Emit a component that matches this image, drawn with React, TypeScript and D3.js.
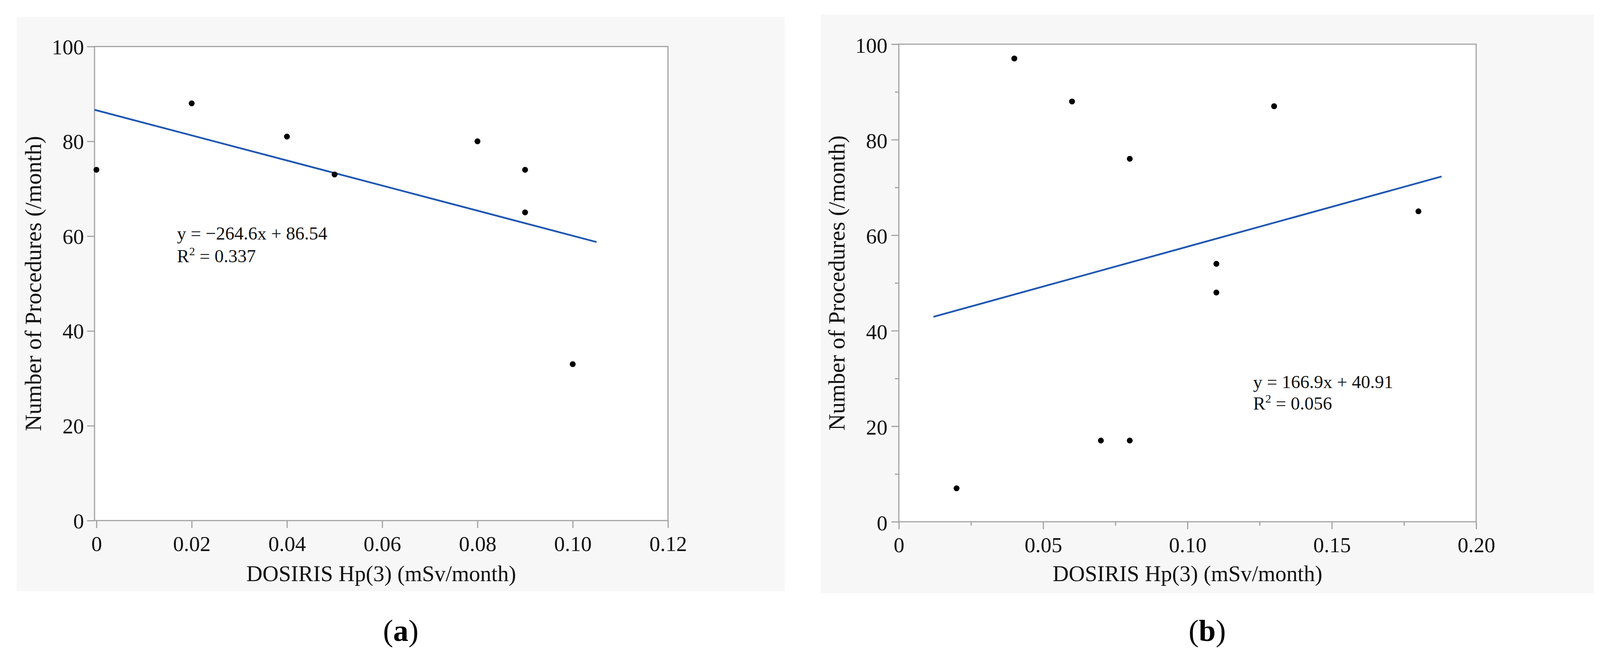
import * as d3 from 'd3';
import { useEffect, useRef } from 'react';

// panel (a) data
const xValuesA = [0, 0.02, 0.04, 0.05, 0.08, 0.09, 0.09, 0.1];
const yValuesA = [74, 88, 81, 73, 80, 74, 65, 33];
const fitA = { slope: -264.6, intercept: 86.54, from: -0.0004, to: 0.105 };
const xTicksA = [0, 0.02, 0.04, 0.06, 0.08, 0.1, 0.12];
const xTickLabelsA = ['0', '0.02', '0.04', '0.06', '0.08', '0.10', '0.12'];
const eqLinesA = ['y = \u2212264.6x + 86.54', '0.337'];

// panel (b) data
const xValuesB = [0.02, 0.04, 0.06, 0.07, 0.08, 0.08, 0.11, 0.11, 0.13, 0.18];
const yValuesB = [7, 97, 88, 17, 17, 76, 54, 48, 87, 65];
const fitB = { slope: 166.9, intercept: 40.91, from: 0.012, to: 0.188 };
const xTicksB = [0, 0.05, 0.1, 0.15, 0.2];
const xTickLabelsB = ['0', '0.05', '0.10', '0.15', '0.20'];
const xMinorB = [0.025, 0.075, 0.125, 0.175];
const yMinorB = [10, 30, 50, 70, 90];
const eqLinesB = ['y = 166.9x + 40.91', '0.056'];

const yTicks = [0, 20, 40, 60, 80, 100];

const font = '"Liberation Serif", "Times New Roman", serif';
const axisGray = '#a4a4a4';
const lineBlue = '#1f57b2';

interface PanelProps {
  xs: number[];
  ys: number[];
  fit: { slope: number; intercept: number; from: number; to: number };
  xDomain: [number, number];
  xTicks: number[];
  xTickLabels: string[];
  xMinor: number[];
  yMinor: number[];
  eq: string[];
  bg: { x0: number; y0: number; x1: number; y1: number };
  plot: { left: number; right: number; top: number; bottom: number };
  eqPos: { x: number; y: number; gap: number };
  yTitleX: number;
  yLabelDx: number;
  yLabelDy: number;
  caption: string;
}

const Panel = (p: PanelProps) => {
  const gRef = useRef<SVGGElement>(null);

  useEffect(() => {
    const g = d3.select(gRef.current);
    g.selectAll('*').remove();
    const { plot, bg } = p;

    const x = d3.scaleLinear().domain(p.xDomain).range([plot.left, plot.right]);
    const y = d3.scaleLinear().domain([0, 100]).range([plot.bottom, plot.top]);

    g.append('rect')
      .attr('x', bg.x0)
      .attr('y', bg.y0)
      .attr('width', bg.x1 - bg.x0)
      .attr('height', bg.y1 - bg.y0)
      .attr('fill', '#f7f7f7');

    g.append('rect')
      .attr('x', plot.left)
      .attr('y', plot.top)
      .attr('width', plot.right - plot.left)
      .attr('height', plot.bottom - plot.top)
      .attr('fill', '#fff')
      .attr('stroke', axisGray)
      .attr('stroke-width', 3);

    // minor ticks
    if (p.xMinor.length) {
      g.append('g')
        .attr('transform', `translate(0,${plot.bottom})`)
        .call(d3.axisBottom(x).tickValues(p.xMinor).tickSize(10).tickSizeOuter(0).tickFormat(() => ''))
        .call((s) => s.select('.domain').remove());
    }
    if (p.yMinor.length) {
      g.append('g')
        .attr('transform', `translate(${plot.left},0)`)
        .call(d3.axisLeft(y).tickValues(p.yMinor).tickSize(10).tickSizeOuter(0).tickFormat(() => ''))
        .call((s) => s.select('.domain').remove());
    }

    const xAxis = g
      .append('g')
      .attr('transform', `translate(0,${plot.bottom})`)
      .call(
        d3
          .axisBottom(x)
          .tickValues(p.xTicks)
          .tickSize(19)
          .tickSizeOuter(0)
          .tickFormat((_, i) => p.xTickLabels[i])
      );
    xAxis.select('.domain').remove();
    xAxis.selectAll('text').attr('dy', null).attr('y', 78);

    const yAxis = g
      .append('g')
      .attr('transform', `translate(${plot.left},0)`)
      .call(d3.axisLeft(y).tickValues(yTicks).tickSize(19).tickSizeOuter(0).tickFormat(d3.format('d')));
    yAxis.select('.domain').remove();
    yAxis.selectAll('text').attr('dy', null).attr('x', p.yLabelDx).attr('y', p.yLabelDy);

    g.selectAll('.tick line').attr('stroke', axisGray).attr('stroke-width', 3);
    g.selectAll('.tick text')
      .attr('fill', '#111')
      .attr('font-family', font)
      .attr('font-size', 55);

    // regression line
    g.append('line')
      .attr('x1', x(p.fit.from))
      .attr('y1', y(p.fit.slope * p.fit.from + p.fit.intercept))
      .attr('x2', x(p.fit.to))
      .attr('y2', y(p.fit.slope * p.fit.to + p.fit.intercept))
      .attr('stroke', lineBlue)
      .attr('stroke-width', 4.5);

    g.append('g')
      .selectAll('circle')
      .data(p.xs.map((v, i) => [v, p.ys[i]]))
      .join('circle')
      .attr('cx', (d) => x(d[0]))
      .attr('cy', (d) => y(d[1]))
      .attr('r', 7.5)
      .attr('fill', '#000');

    // equation
    const eq = g
      .append('text')
      .attr('font-family', font)
      .attr('font-size', 47)
      .attr('fill', '#111');
    eq.append('tspan').attr('x', p.eqPos.x).attr('y', p.eqPos.y).text(p.eq[0]);
    const l2 = eq.append('tspan').attr('x', p.eqPos.x).attr('y', p.eqPos.y + p.eqPos.gap);
    l2.append('tspan').text('R');
    l2.append('tspan').attr('font-size', 30).attr('dy', -18).text('2');
    l2.append('tspan').attr('dy', 18).text(' = ' + p.eq[1]);

    // axis titles
    g.append('text')
      .attr('x', (plot.left + plot.right) / 2)
      .attr('y', 1487)
      .attr('text-anchor', 'middle')
      .attr('font-family', font)
      .attr('font-size', 57)
      .attr('fill', '#111')
      .text('DOSIRIS Hp(3) (mSv/month)');

    g.append('text')
      .attr('transform', `translate(${p.yTitleX},${(plot.top + plot.bottom) / 2}) rotate(-90)`)
      .attr('text-anchor', 'middle')
      .attr('font-family', font)
      .attr('font-size', 59)
      .attr('fill', '#111')
      .text('Number of Procedures (/month)');

    const cap = g
      .append('text')
      .attr('x', (bg.x0 + bg.x1) / 2)
      .attr('y', 1640)
      .attr('text-anchor', 'middle')
      .attr('font-family', font)
      .attr('font-size', 78)
      .attr('fill', '#000');
    cap.append('tspan').text('(');
    cap.append('tspan').attr('font-weight', 'bold').text(p.caption);
    cap.append('tspan').text(')');
  }, []);

  return <g ref={gRef} />;
};

export default function App() {
  return (
    <svg
      width={4124}
      height={1676}
      style={{ position: 'absolute', left: 0, top: 0, background: '#fff' }}
    >
      <Panel
        xs={xValuesA}
        ys={yValuesA}
        fit={fitA}
        xDomain={[-0.0004, 0.12]}
        xTicks={xTicksA}
        xTickLabels={xTickLabelsA}
        xMinor={[]}
        yMinor={[]}
        eq={eqLinesA}
        bg={{ x0: 43, y0: 44, x1: 2009, y1: 1513 }}
        plot={{ left: 242, right: 1710, top: 119, bottom: 1332 }}
        eqPos={{ x: 453, y: 613, gap: 58 }}
        yTitleX={105}
        yLabelDx={-27}
        yLabelDy={19}
        caption="a"
      />
      <Panel
        xs={xValuesB}
        ys={yValuesB}
        fit={fitB}
        xDomain={[0, 0.2]}
        xTicks={xTicksB}
        xTickLabels={xTickLabelsB}
        xMinor={xMinorB}
        yMinor={yMinorB}
        eq={eqLinesB}
        bg={{ x0: 2101, y0: 37, x1: 4080, y1: 1518 }}
        plot={{ left: 2301, right: 3779, top: 113, bottom: 1335 }}
        eqPos={{ x: 3208, y: 993, gap: 55 }}
        yTitleX={2162}
        yLabelDx={-29}
        yLabelDy={21}
        caption="b"
      />
    </svg>
  );
}
